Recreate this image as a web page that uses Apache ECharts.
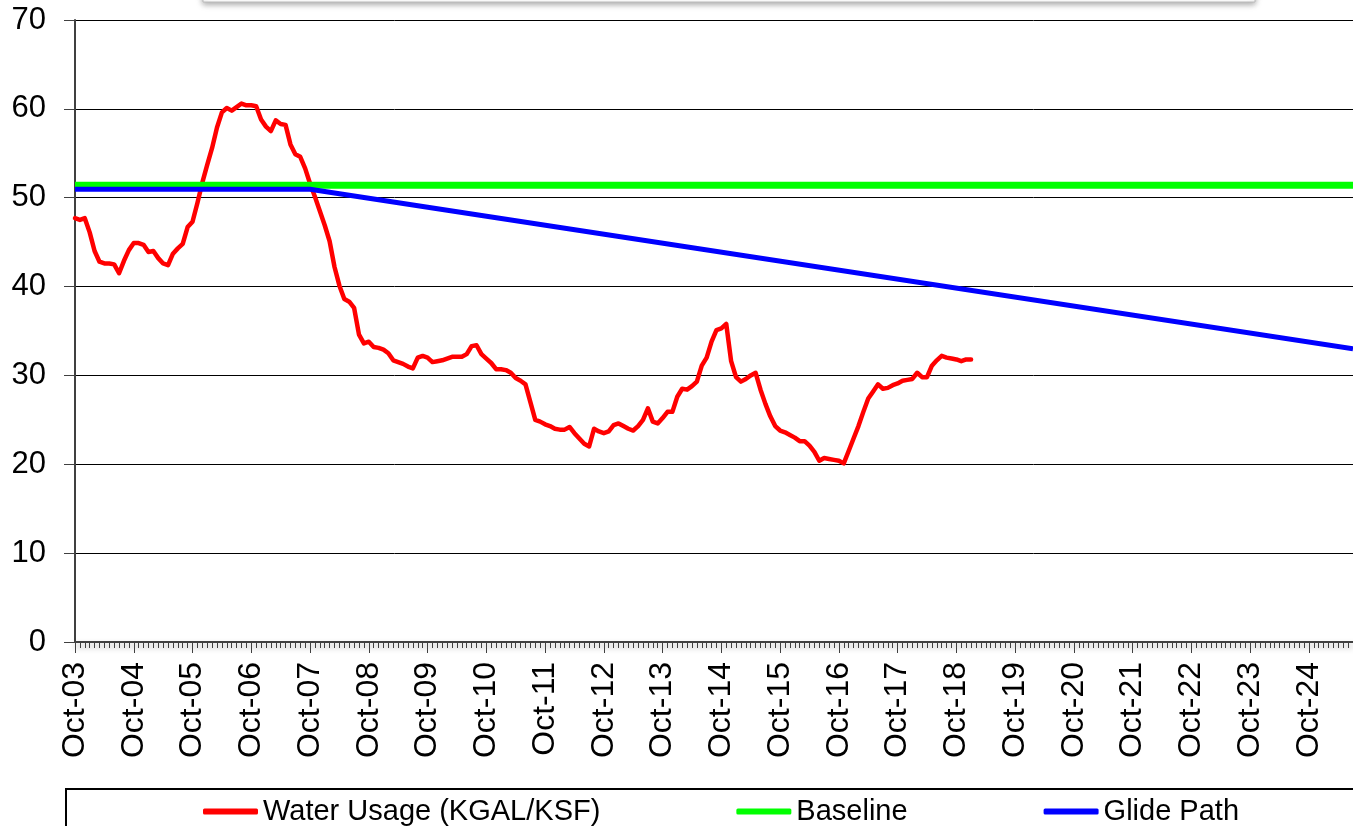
<!DOCTYPE html>
<html>
<head>
<meta charset="utf-8">
<script src="https://cdn.jsdelivr.net/npm/echarts@6/dist/echarts.min.js"></script>
<style>
html, body { margin: 0; padding: 0; background: #fff; }
#chart { width: 1353px; height: 826px; }
</style>
</head>
<body>
<div id="chart"></div>
<script>
// month labels, Oct-03 .. Jul-25
const monthNames = ['Jan', 'Feb', 'Mar', 'Apr', 'May', 'Jun', 'Jul', 'Aug', 'Sep', 'Oct', 'Nov', 'Dec'];
const categories = [];
for (let i = 0; i < 262; i++) {
	const m = 9 + i;
	const yy = (2003 + Math.floor(m / 12)) % 100;
	categories.push(monthNames[m % 12] + '-' + (yy < 10 ? '0' + yy : '' + yy));
}

// monthly water usage from Oct-03
const waterUsage = [
	47.7, 47.5, 47.7, 46.1, 44.0, 42.8, 42.6, 42.6, 42.5, 41.5,
	42.9, 44.1, 44.9, 44.9, 44.7, 43.9, 44.0, 43.2, 42.6, 42.4,
	43.7, 44.3, 44.8, 46.7, 47.3, 49.4, 51.7, 53.7, 55.6, 57.9,
	59.6, 60.1, 59.8, 60.2, 60.6, 60.4, 60.4, 60.3, 58.8, 58.0,
	57.5, 58.7, 58.3, 58.2, 56.0, 54.9, 54.6, 53.3, 51.6, 50.1,
	48.5, 46.9, 45.1, 42.2, 40.1, 38.6, 38.3, 37.6, 34.6, 33.6,
	33.8, 33.2, 33.1, 32.9, 32.5, 31.7, 31.5, 31.3, 31.0, 30.8,
	32.0, 32.2, 32.0, 31.5, 31.6, 31.7, 31.9, 32.1, 32.1, 32.1,
	32.4, 33.3, 33.4, 32.4, 31.9, 31.4, 30.7, 30.7, 30.6, 30.3,
	29.7, 29.4, 29.0, 27.0, 25.0, 24.8, 24.5, 24.3, 24.0, 23.9,
	23.9, 24.2, 23.5, 22.9, 22.3, 22.0, 24.0, 23.7, 23.5, 23.7,
	24.4, 24.6, 24.3, 24.0, 23.8, 24.3, 25.0, 26.3, 24.8, 24.6,
	25.2, 25.9, 25.9, 27.6, 28.5, 28.4, 28.8, 29.3, 31.1, 32.0,
	33.8, 35.1, 35.3, 35.8, 31.6, 29.8, 29.3, 29.6, 30.0, 30.3,
	28.4, 26.8, 25.4, 24.3, 23.8, 23.6, 23.3, 23.0, 22.6, 22.6,
	22.1, 21.4, 20.4, 20.7, 20.6, 20.5, 20.4, 20.1, 21.5, 22.9,
	24.3, 25.9, 27.4, 28.2, 29.0, 28.5, 28.6, 28.9, 29.1, 29.4,
	29.5, 29.6, 30.3, 29.8, 29.8, 31.1, 31.7, 32.2, 32.0, 31.9,
	31.8, 31.6, 31.8, 31.8
];

const baselineX = ['Oct-03', 'Jul-25'];
const baselineY = [51.4, 51.4];
const glideX = ['Oct-03', 'Oct-07', 'Jul-25'];
const glideY = [50.95, 50.95, 33.0];

const font = 'Liberation Sans, Arial, sans-serif';
const axisColor = '#404040';

const chart = echarts.init(document.getElementById('chart'));
chart.setOption({
	animation: false,
	color: ['#ff0000', '#00ff00', '#0000ff'],
	textStyle: { fontFamily: font },
	grid: { left: 75, right: 0, top: 20, bottom: 184, containLabel: false },
	legend: {
		left: 198,
		top: 792,
		icon: 'roundRect',
		itemWidth: 55,
		itemHeight: 6,
		itemGap: 136,
		textStyle: { fontSize: 29, color: '#000', fontFamily: font },
		data: ['Water Usage (KGAL/KSF)', 'Baseline', 'Glide Path']
	},
	xAxis: [{
		type: 'category',
		data: categories,
		boundaryGap: false,
		axisLine: { lineStyle: { color: axisColor, width: 2, shadowColor: 'rgba(0,0,0,0.35)', shadowBlur: 6, shadowOffsetY: 4 } },
		axisTick: { interval: 0, length: 6, lineStyle: { color: axisColor } },
		axisLabel: {
			interval: (idx) => idx % 12 === 0,
			rotate: 90, fontSize: 32, color: '#000', margin: 20, fontFamily: font,
			hideOverlap: false
		},
		splitLine: { show: false }
	}, {
		type: 'category',
		data: categories,
		boundaryGap: false,
		position: 'bottom',
		axisLine: { show: false },
		axisTick: { interval: (idx) => idx % 12 === 0, length: 11, lineStyle: { color: axisColor } },
		axisLabel: { show: false },
		splitLine: { show: false }
	}],
	yAxis: {
		type: 'value',
		min: 0,
		max: 70,
		interval: 10,
		axisLine: { show: true, lineStyle: { color: axisColor, width: 2 } },
		axisTick: { show: true, length: 11, lineStyle: { color: axisColor } },
		axisLabel: { fontSize: 31, color: '#000', margin: 29, fontFamily: font },
		splitLine: { lineStyle: { color: '#000', width: 1 } }
	},
	graphic: [
		{
			type: 'rect',
			shape: { x: 203, y: -30, width: 1052, height: 32 },
			style: { fill: '#fff', stroke: '#bbb', lineWidth: 1, shadowBlur: 6, shadowColor: 'rgba(0,0,0,0.35)', shadowOffsetY: 2 }
		},
		{
			type: 'rect',
			shape: { x: 66, y: 789, width: 1400, height: 60 },
			style: { fill: 'none', stroke: '#000', lineWidth: 2 }
		}
	],
	series: [
		{
			name: 'Water Usage (KGAL/KSF)',
			type: 'line',
			data: waterUsage,
			showSymbol: false,
			lineStyle: { color: '#ff0000', width: 4.5, cap: 'round', join: 'round' }
		},
		{
			name: 'Baseline',
			type: 'line',
			data: baselineX.map((x, i) => [x, baselineY[i]]),
			showSymbol: false,
			lineStyle: { color: '#00ff00', width: 7 }
		},
		{
			name: 'Glide Path',
			type: 'line',
			data: glideX.map((x, i) => [x, glideY[i]]),
			showSymbol: false,
			lineStyle: { color: '#0000ff', width: 5, join: 'round' }
		}
	]
});
</script>
</body>
</html>
